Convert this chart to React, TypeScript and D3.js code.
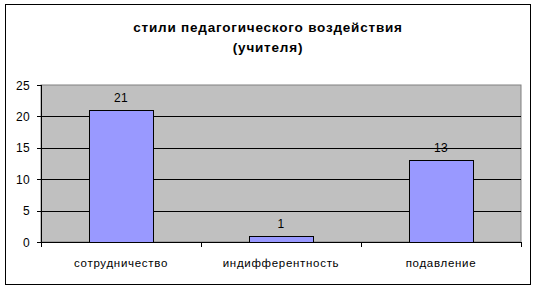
import React from "react";
import * as d3 from "d3";

const categories = ["сотрудничество", "индифферентность", "подавление"];
const values = [21, 1, 13];
const yTicks = [0, 5, 10, 15, 20, 25];
const titleLines = ["стили педагогического воздействия", "(учителя)"];

export default function App() {
  const W = 538, H = 290;
  const left = 41, right = 521, top = 85, bottom = 242;
  const x = d3.scaleBand<string>().domain(categories).range([left, right]).paddingInner(0).paddingOuter(0);
  const y = d3.scaleLinear().domain([0, 25]).range([bottom, top]);
  const bw = x.bandwidth() * 0.4;
  const font = "'Liberation Sans', Arial, sans-serif";
  return (
    <svg width={W} height={H} style={{ position: "absolute", left: 0, top: 0 }}>
      <rect x={0} y={0} width={W} height={H} fill="#fff" />
      <rect x={5.5} y={4.5} width={525} height={280} fill="#fff" stroke="#000" strokeWidth={1} />
      {titleLines.map((t, i) => (
        <text key={i} x={268} y={31.5 + i * 20} textAnchor="middle" fontFamily={font} fontWeight="bold" fontSize={13.5} letterSpacing={0.8} fill="#000">{t}</text>
      ))}
      <rect x={left} y={top} width={right - left} height={bottom - top} fill="#C0C0C0" stroke="#808080" strokeWidth={1} />
      {yTicks.filter(t => t > 0 && t < 25).map(t => (
        <line key={t} x1={left} x2={right} y1={Math.round(y(t)) + 0.5} y2={Math.round(y(t)) + 0.5} stroke="#000" />
      ))}
      {categories.map((c, i) => {
        const cx = (x(c) as number) + x.bandwidth() / 2;
        const y0 = Math.round(y(values[i]));
        return (
          <g key={c}>
            <rect x={Math.round(cx - bw / 2) + 0.5} y={y0 + 0.5} width={bw} height={bottom - y0} fill="#9999FF" stroke="#000" />
            <text x={cx} y={y0 - 8} textAnchor="middle" fontFamily={font} fontSize={12} letterSpacing={0.3} fill="#000">{values[i]}</text>
            <text x={cx} y={267} textAnchor="middle" fontFamily={font} fontSize={11.5} letterSpacing={0.7} fill="#000">{c}</text>
          </g>
        );
      })}
      <line x1={left + 0.5} x2={left + 0.5} y1={top} y2={bottom + 1} stroke="#000" />
      <line x1={left} x2={right + 1} y1={bottom + 0.5} y2={bottom + 0.5} stroke="#000" />
      {yTicks.map(t => (
        <g key={t}>
          <line x1={left - 4} x2={left} y1={Math.round(y(t)) + 0.5} y2={Math.round(y(t)) + 0.5} stroke="#000" />
          <text x={30} y={y(t) + 4.5} textAnchor="end" fontFamily={font} fontSize={12} letterSpacing={0.3} fill="#000">{t}</text>
        </g>
      ))}
      {[0, 1, 2, 3].map(i => {
        const xx = left + i * x.bandwidth();
        return <line key={i} x1={Math.round(xx) + 0.5} x2={Math.round(xx) + 0.5} y1={bottom} y2={bottom + 5} stroke="#000" />;
      })}
    </svg>
  );
}
